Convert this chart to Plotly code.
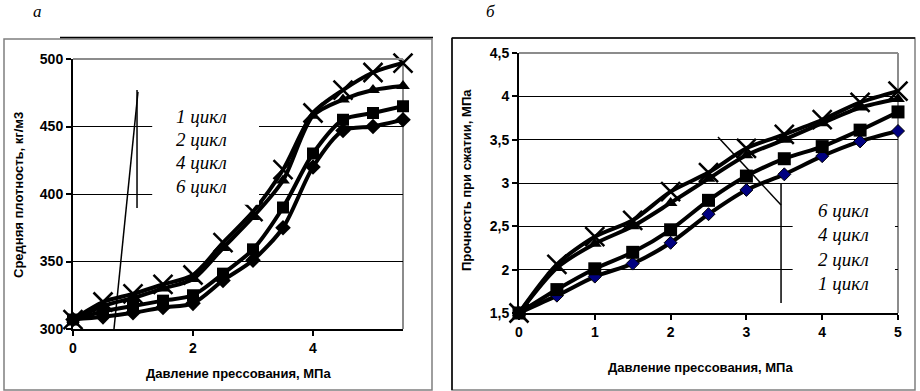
import plotly.graph_objects as go

# ---------------- data ----------------
pressure_a = [0, 0.5, 1, 1.5, 2, 2.5, 3, 3.5, 4, 4.5, 5, 5.5]
density_c1 = [307, 309, 312, 316, 319, 336, 351, 375, 420, 447, 450, 455]
density_c2 = [307, 313, 317, 321, 325, 341, 359, 390, 430, 455, 460, 465]
density_c4 = [307, 317, 323, 330, 337, 360, 383, 410, 458, 470, 477, 480]
density_c6 = [307, 320, 326, 333, 340, 364, 387, 418, 460, 477, 490, 497]

pressure_b = [0, 0.5, 1, 1.5, 2, 2.5, 3, 3.5, 4, 4.5, 5]
strength_c1 = [1.5, 1.70, 1.92, 2.07, 2.31, 2.64, 2.92, 3.10, 3.31, 3.48, 3.60]
strength_c2 = [1.5, 1.77, 2.01, 2.20, 2.46, 2.80, 3.08, 3.28, 3.42, 3.61, 3.82]
strength_c4 = [1.5, 2.02, 2.30, 2.50, 2.77, 3.05, 3.32, 3.50, 3.69, 3.87, 3.97]
strength_c6 = [1.5, 2.06, 2.38, 2.57, 2.90, 3.12, 3.40, 3.56, 3.73, 3.93, 4.06]

legend_a = ["1 цикл", "2 цикл", "4 цикл", "6 цикл"]
legend_b = ["6 цикл", "4 цикл", "2 цикл", "1 цикл"]

xtitle = "Давление прессования, МПа"
ytitle_a = "Средняя плотность, кг/м3"
ytitle_b = "Прочность при сжатии, МПа"

W, H = 920, 391
SANS = "Liberation Sans, Arial, sans-serif"
SERIF = "Liberation Serif, Times New Roman, serif"


def px(x):
    return x / W


def py(y):
    return 1 - y / H


fig = go.Figure()

series_a = [
    (density_c1, "diamond", 12, "black"),
    (density_c2, "square", 12, "black"),
    (density_c4, "triangle-up", 12, "black"),
    (density_c6, "x-thin", 19, "black"),
]
for vals, sym, sz, col in series_a:
    fig.add_trace(go.Scatter(
        x=pressure_a, y=vals, mode="lines+markers", xaxis="x", yaxis="y",
        line=dict(color="black", width=4, shape="spline", smoothing=0.8),
        marker=dict(symbol=sym, size=sz, color=col,
                    line=dict(color="black", width=2.5 if sym == "x-thin" else 0)),
        cliponaxis=False, showlegend=False, hoverinfo="skip"))

series_b = [
    (strength_c1, "diamond", 10, "#000080"),
    (strength_c2, "square", 13, "black"),
    (strength_c4, "triangle-up", 12, "black"),
    (strength_c6, "x-thin", 19, "black"),
]
for vals, sym, sz, col in series_b:
    fig.add_trace(go.Scatter(
        x=pressure_b, y=vals, mode="lines+markers", xaxis="x2", yaxis="y2",
        line=dict(color="black", width=4, shape="spline", smoothing=0.8),
        marker=dict(symbol=sym, size=sz, color=col,
                    line=dict(color="black", width=2.5 if sym == "x-thin" else (1 if sym == "diamond" else 0))),
        cliponaxis=False, showlegend=False, hoverinfo="skip"))

axis_common = dict(showline=True, linecolor="black", linewidth=2, ticks="outside",
                   ticklen=5, tickcolor="black", tickwidth=1.5, zeroline=False, automargin=False,
                   tickfont=dict(family=SANS, size=14, color="black", weight="bold"))

fig.update_layout(
    width=W, height=H, autosize=False,
    margin=dict(l=0, r=0, t=0, b=0, autoexpand=False),
    paper_bgcolor="white", plot_bgcolor="white",
    separators=", ",
    xaxis=dict(domain=[px(73), px(403)], range=[0, 5.5], anchor="y",
               tickvals=[0, 2, 4], showgrid=False, **axis_common),
    yaxis=dict(domain=[py(329), py(59)], range=[300, 500], anchor="x",
               dtick=50, showgrid=True, gridcolor="black", gridwidth=1, **axis_common),
    xaxis2=dict(domain=[px(519), px(898)], range=[0, 5], anchor="y2",
                dtick=1, showgrid=False, **axis_common),
    yaxis2=dict(domain=[py(313), py(53)], range=[1.5, 4.5], anchor="x2",
                dtick=0.5, tickformat=".1~f", showgrid=True, gridcolor="black", gridwidth=1,
                **axis_common),
)

shapes = []
# outer frames
shapes.append(dict(type="rect", xref="paper", yref="paper",
                   x0=px(4), x1=px(432), y0=py(390), y1=py(39),
                   line=dict(color="#7f7f7f", width=1.5), layer="below"))
shapes.append(dict(type="line", xref="paper", yref="paper",
                   x0=px(60), x1=px(433), y0=py(37.5), y1=py(37.5),
                   line=dict(color="black", width=1.5)))
shapes.append(dict(type="rect", xref="paper", yref="paper",
                   x0=px(452), x1=px(915), y0=py(390), y1=py(38),
                   line=dict(color="#7f7f7f", width=1.5), layer="below"))
shapes.append(dict(type="line", xref="paper", yref="paper",
                   x0=px(452), x1=px(915), y0=py(38), y1=py(38),
                   line=dict(color="black", width=1.5)))
shapes.append(dict(type="line", xref="paper", yref="paper",
                   x0=px(452), x1=px(452), y0=py(390), y1=py(38),
                   line=dict(color="black", width=1.5)))

# legend white boxes (cover grid lines)
shapes.append(dict(type="rect", xref="x", yref="y", x0=1.32, x1=3.1, y0=392, y1=472,
                   fillcolor="white", line=dict(width=0), layer="above"))
shapes.append(dict(type="rect", xref="x2", yref="y2", x0=3.61, x1=4.96, y0=1.65, y1=2.95,
                   fillcolor="white", line=dict(width=0), layer="above"))

# plot-area gray borders (top / right)
for xr, yr in (("x domain", "y domain"), ("x2 domain", "y2 domain")):
    shapes.append(dict(type="line", xref=xr, yref=yr, x0=0, x1=1, y0=1, y1=1,
                       line=dict(color="#8c8c8c", width=2), layer="above"))
    shapes.append(dict(type="line", xref=xr, yref=yr, x0=1, x1=1, y0=0, y1=1,
                       line=dict(color="#8c8c8c", width=2), layer="below"))

# leader lines
shapes.append(dict(type="line", xref="x", yref="y", x0=1.067, x1=1.067, y0=477, y1=389.6,
                   line=dict(color="black", width=1.5)))
shapes.append(dict(type="line", xref="x", yref="y", x0=1.083, x1=0.683, y0=475.6, y1=300,
                   line=dict(color="black", width=1.5)))
shapes.append(dict(type="line", xref="x2", yref="y2", x0=3.457, x1=3.457, y0=3.0, y1=1.615,
                   line=dict(color="black", width=1.5)))
shapes.append(dict(type="line", xref="x2", yref="y2", x0=2.625, x1=3.457, y0=3.53, y1=2.746,
                   line=dict(color="black", width=1.5)))

fig.update_layout(shapes=shapes)

ann = []


def add_text(text, x, y, font, angle=0):
    ann.append(dict(text=text, x=px(x), y=py(y), xref="paper", yref="paper",
                    xanchor="center", yanchor="middle", showarrow=False,
                    textangle=angle, font=font))


letter_font = dict(family=SERIF, size=17, color="black")
title_font = dict(family=SANS, size=13, color="black")
leg_font = dict(family=SERIF, size=19, color="black")

add_text("<i>а</i>", 37, 12, letter_font)
add_text("<i>б</i>", 490, 12, letter_font)
add_text(f"<b>{xtitle}</b>", 238, 373, title_font)
add_text(f"<b>{xtitle}</b>", 700, 367, title_font)
add_text(f"<b>{ytitle_a}</b>", 18, 195, title_font, -90)
add_text(f"<b>{ytitle_b}</b>", 467, 180, title_font, -90)
for i, t in enumerate(legend_a):
    add_text(f"<i>{t}</i>", 201, 117 + 23 * i, leg_font)
for i, t in enumerate(legend_b):
    add_text(f"<i>{t}</i>", 843, 210 + 24.5 * i, leg_font)

fig.update_layout(annotations=ann)

fig.write_html("out.html")
